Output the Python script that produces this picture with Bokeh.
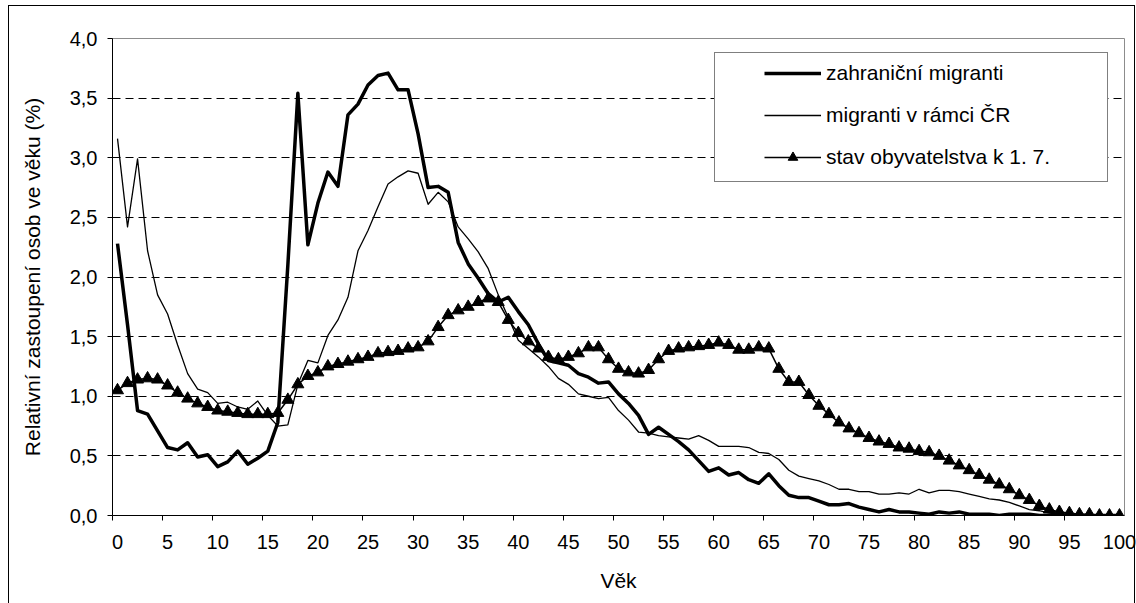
from bokeh.plotting import figure
from bokeh.models import FixedTicker, Legend, LegendItem, Range1d, InlineStyleSheet
from bokeh.embed import file_html
from bokeh.resources import INLINE

# ---------------- data ----------------
ages = list(range(101))

zahranicni = [2.28, 1.60, 0.88, 0.85, 0.71, 0.57, 0.55, 0.61, 0.49, 0.51,
              0.41, 0.45, 0.54, 0.43, 0.48, 0.54, 0.78, 2.10, 3.54, 2.27,
              2.62, 2.88, 2.76, 3.36, 3.45, 3.61, 3.69, 3.71, 3.57, 3.57,
              3.20, 2.75, 2.76, 2.71, 2.29, 2.11, 1.99, 1.86, 1.79, 1.83,
              1.71, 1.60, 1.44, 1.30, 1.28, 1.26, 1.19, 1.16, 1.11, 1.12,
              1.02, 0.94, 0.84, 0.68, 0.74, 0.68, 0.62, 0.55, 0.46, 0.37,
              0.40, 0.34, 0.36, 0.30, 0.27, 0.35, 0.25, 0.17, 0.15, 0.15,
              0.12, 0.09, 0.09, 0.10, 0.07, 0.05, 0.03, 0.05, 0.03, 0.03,
              0.02, 0.01, 0.03, 0.02, 0.03, 0.01, 0.01, 0.01, 0.00, 0.01,
              0.01, 0.01, 0.00, 0.00, 0.00, 0.00, 0.00, 0.00, 0.00, 0.00,
              0.00]

v_ramci_cr = [3.16, 2.42, 2.99, 2.22, 1.85, 1.69, 1.43, 1.19, 1.06, 1.03,
              0.94, 0.95, 0.91, 0.89, 0.96, 0.84, 0.75, 0.76, 1.10, 1.30,
              1.28, 1.51, 1.64, 1.83, 2.22, 2.39, 2.59, 2.78, 2.84, 2.89,
              2.87, 2.61, 2.71, 2.63, 2.42, 2.32, 2.21, 2.07, 1.85, 1.66,
              1.47, 1.40, 1.33, 1.25, 1.15, 1.10, 1.02, 1.00, 0.98, 0.99,
              0.88, 0.80, 0.70, 0.69, 0.67, 0.66, 0.65, 0.64, 0.67, 0.63,
              0.58, 0.58, 0.58, 0.57, 0.53, 0.52, 0.47, 0.38, 0.33, 0.31,
              0.29, 0.26, 0.22, 0.22, 0.20, 0.20, 0.18, 0.18, 0.19, 0.18,
              0.22, 0.19, 0.21, 0.21, 0.20, 0.18, 0.16, 0.14, 0.13, 0.11,
              0.08, 0.05, 0.04, 0.02, 0.01, 0.01, 0.00, 0.00, 0.00, 0.00,
              0.00]

stav = [1.05, 1.11, 1.14, 1.15, 1.14, 1.09, 1.03, 0.98, 0.94, 0.91,
        0.88, 0.87, 0.86, 0.85, 0.85, 0.85, 0.86, 0.97, 1.10, 1.17,
        1.20, 1.25, 1.27, 1.29, 1.31, 1.33, 1.36, 1.37, 1.38, 1.40,
        1.41, 1.46, 1.58, 1.68, 1.72, 1.75, 1.79, 1.82, 1.79, 1.64,
        1.53, 1.46, 1.40, 1.33, 1.31, 1.33, 1.36, 1.41, 1.41, 1.31,
        1.23, 1.20, 1.19, 1.22, 1.31, 1.38, 1.40, 1.41, 1.42, 1.43,
        1.45, 1.43, 1.39, 1.39, 1.41, 1.40, 1.23, 1.12, 1.12, 1.01,
        0.92, 0.85, 0.78, 0.73, 0.69, 0.65, 0.62, 0.60, 0.57, 0.56,
        0.54, 0.53, 0.50, 0.46, 0.42, 0.38, 0.34, 0.30, 0.26, 0.22,
        0.17, 0.13, 0.08, 0.05, 0.03, 0.02, 0.01, 0.01, 0.00, 0.00,
        0.00]

series_labels = ["zahraniční migranti", "migranti v rámci ČR", "stav obyvatelstva k 1. 7."]

x_tick_values = list(range(0, 101, 5))
x_tick_labels = [str(v) for v in x_tick_values]
y_tick_values = [0.0, 0.5, 1.0, 1.5, 2.0, 2.5, 3.0, 3.5, 4.0]
y_tick_labels = ["0,0", "0,5", "1,0", "1,5", "2,0", "2,5", "3,0", "3,5", "4,0"]

x_title = "Věk"
y_title = "Relativní zastoupení osob ve věku (%)"

# ---------------- figure ----------------
FONT = "Liberation Sans"

p = figure(width=1136, height=603, output_backend="svg", toolbar_location=None,
           x_range=Range1d(ages[0] - 0.5, ages[-1] + 0.5),
           y_range=Range1d(y_tick_values[0], y_tick_values[-1]),
           min_border_left=112, min_border_right=12,
           min_border_top=38, min_border_bottom=88)

p.background_fill_color = "white"
p.border_fill_color = "white"
p.outline_line_color = "#8c8c8c"
p.outline_line_width = 1

# outer chart-area frame (drawn with CSS over the canvas)
p.stylesheets = [InlineStyleSheet(css="""
:host { position: relative; overflow: hidden; }
:host::after {
  content: "";
  position: absolute;
  left: 8px; top: 5px; right: 1px; bottom: -6px;
  border: 1px solid #000000;
  pointer-events: none;
  z-index: 10;
}
""")]

# grid
p.xgrid.visible = False
p.ygrid.ticker = FixedTicker(ticks=y_tick_values[1:-1])
p.ygrid.grid_line_color = "black"
p.ygrid.grid_line_width = 1
p.ygrid.grid_line_dash = "8 5"

# x axis
xax = p.xaxis[0]
xax.ticker = FixedTicker(ticks=x_tick_values,
                         minor_ticks=[v - 0.5 for v in x_tick_values[:-1]])
xax.major_label_overrides = {v: s for v, s in zip(x_tick_values, x_tick_labels)}
xax.major_tick_out = 0
xax.major_tick_in = 0
xax.minor_tick_out = 5
xax.minor_tick_in = 0
xax.minor_tick_line_color = "black"
xax.axis_line_color = "black"
xax.major_label_standoff = 14
xax.major_label_text_font = FONT
xax.major_label_text_font_size = "20px"
xax.major_label_text_color = "black"
xax.axis_label = x_title
xax.axis_label_text_font = FONT
xax.axis_label_text_font_size = "21px"
xax.axis_label_text_font_style = "normal"
xax.axis_label_text_color = "black"
xax.axis_label_standoff = 17

# y axis
yax = p.yaxis[0]
yax.ticker = FixedTicker(ticks=y_tick_values)
yax.major_label_overrides = {v: s for v, s in zip(y_tick_values, y_tick_labels)}
yax.major_tick_out = 5
yax.major_tick_in = 0
yax.minor_tick_line_color = None
yax.major_tick_line_color = "black"
yax.axis_line_color = "black"
yax.major_label_standoff = 10
yax.major_label_text_font = FONT
yax.major_label_text_font_size = "20px"
yax.major_label_text_color = "black"
yax.axis_label = y_title
yax.axis_label_text_font = FONT
yax.axis_label_text_font_size = "21px"
yax.axis_label_text_font_style = "normal"
yax.axis_label_text_color = "black"
yax.axis_label_standoff = 23

# series
r1 = p.line(ages, zahranicni, line_color="black", line_width=3.5, line_join="round")
r2 = p.line(ages, v_ramci_cr, line_color="black", line_width=1.3, line_join="round")
r3 = p.line(ages, stav, line_color="black", line_width=1.5)
r3m = p.scatter(ages, stav, marker="triangle", size=12, fill_color="black", line_color="black")

legend = Legend(items=[
    LegendItem(label=series_labels[0], renderers=[r1]),
    LegendItem(label=series_labels[1], renderers=[r2]),
    LegendItem(label=series_labels[2], renderers=[r3, r3m]),
], location=(602, 333))
legend.margin = 0
legend.spacing = 18
legend.glyph_width = 57
legend.glyph_height = 24
legend.label_height = 24
legend.label_standoff = 5
legend.label_width = 281
legend.label_text_font = FONT
legend.label_text_font_size = "21px"
legend.label_text_color = "black"
legend.border_line_color = "black"
legend.border_line_width = 1
legend.background_fill_color = "white"
legend.background_fill_alpha = 1.0
try:
    legend.padding = dict(top=8, right=0, bottom=12, left=49)
except Exception:
    legend.padding = 10
p.add_layout(legend)

open("out.html", "w").write(file_html(p, INLINE))
